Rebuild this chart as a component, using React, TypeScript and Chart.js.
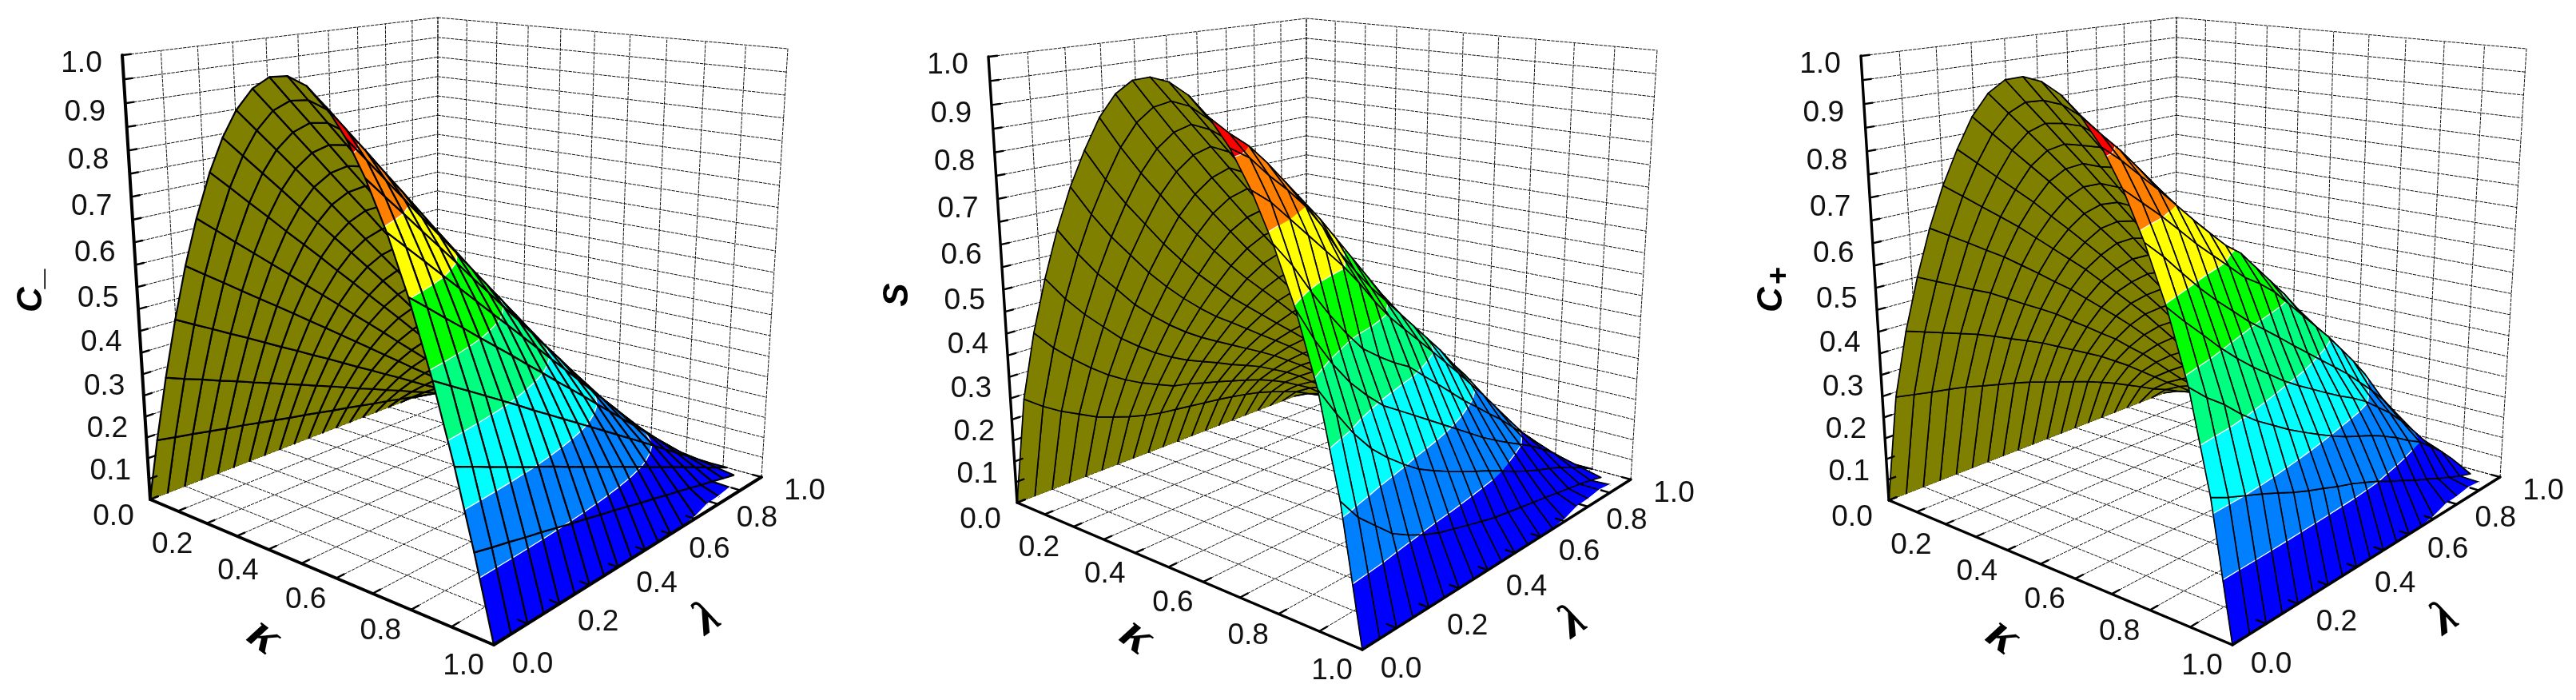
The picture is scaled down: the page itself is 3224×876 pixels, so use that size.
import { useEffect, useRef } from "react";
import { Chart, registerables } from "chart.js";
Chart.register(...registerables);

const lambdaGrid = [0, .05, .1, .15, .2, .25, .3, .35, .4, .45, .5, .55, .6, .65, .7, .75, .8, .85, .9, .95, 1];
const kappaRowsMinus = [0, .04, .085, .13, .175, .22, .27, .315, .36, .41, .46, .51, .56, .61, .66, .705, .755, .805, .86, .91, .955, 1];
const kappaRowsOther = [0, .05, .1, .15, .2, .25, .3, .35, .4, .45, .5, .55, .6, .65, .7, .75, .8, .85, .9, .95, 1];
const zGridValues = [0, .05, .1, .15, .2, .25, .3, .35, .4, .45, .5, .55, .6, .65, .7, .75, .8, .85, .9, .95, 1];
const floorGridValues = [0, .1, .2, .3, .4, .5, .6, .7, .8, .9, 1];
const zLabels = ["0.0", "0.1", "0.2", "0.3", "0.4", "0.5", "0.6", "0.7", "0.8", "0.9", "1.0"];
const kappaLabels = ["0.2", "0.4", "0.6", "0.8", "1.0"];
const lambdaLabels = ["0.0", "0.2", "0.4", "0.6", "0.8", "1.0"];
const levelColors = ["#0000ff", "#0080ff", "#00ffff", "#00ff80", "#00ff00", "#ffff00", "#ff8000", "#ff0000"];
const levelEdges = [-1, .125, .25, .375, .5, .625, .75, .875, 2];

// Surface heights in thousandths, one row per kappa line, one column per lambda line.
const zeroRow = [0, 0, 0, 0, 0, 0, 0, 0, 0, 0, 0, 0, 0, 0, 0, 0, 0, 0, 0, 0, 0];
const edgeRow = [0, 0, 0, 0, 0, 0, 0, 0, 0, 0, 0, 0, 0, 0, 5, 17, 19, 24, null, null, null];
const edgeRowLong = [0, 0, 0, 0, 0, 0, 0, 0, 0, 0, 0, 0, 0, 0, 5, 17, 19, 24, 20, null, null];
const cMinusZ = [
  zeroRow,
  [154, 146, 139, 131, 123, 116, 108, 100, 92, 85, 77, 69, 62, 54, 46, 39, 31, 23, 15, 8, 0],
  [311, 295, 280, 264, 249, 233, 218, 202, 187, 171, 156, 140, 124, 109, 93, 78, 62, 47, 31, 16, 0],
  [452, 429, 407, 384, 362, 339, 316, 294, 271, 249, 226, 203, 181, 158, 136, 113, 90, 68, 45, 23, 0],
  [578, 549, 520, 491, 462, 434, 405, 376, 347, 318, 289, 260, 231, 202, 173, 145, 116, 87, 58, 29, 0],
  [686, 652, 617, 583, 549, 515, 480, 446, 412, 377, 343, 309, 274, 240, 206, 172, 137, 103, 69, 34, 0],
  [788, 749, 709, 670, 630, 591, 552, 512, 473, 433, 394, 355, 315, 276, 236, 197, 158, 118, 79, 39, 0],
  [863, 820, 777, 734, 690, 647, 604, 561, 518, 475, 432, 388, 345, 302, 259, 216, 173, 129, 86, 43, 0],
  [922, 876, 830, 784, 738, 692, 645, 599, 553, 507, 461, 415, 369, 323, 277, 231, 184, 138, 92, 46, 0],
  [968, 920, 871, 823, 774, 726, 678, 629, 581, 532, 484, 436, 387, 339, 290, 242, 194, 145, 97, 48, 0],
  [994, 944, 895, 845, 795, 746, 696, 646, 596, 547, 497, 447, 398, 348, 298, 249, 199, 149, 99, 50, 0],
  [1000, 950, 900, 850, 800, 750, 700, 650, 600, 550, 500, 450, 400, 350, 300, 250, 200, 150, 100, 50, 0],
  [986, 937, 887, 838, 789, 740, 690, 641, 592, 542, 493, 444, 394, 345, 296, 247, 197, 148, 99, 49, 0],
  [952, 904, 857, 809, 762, 714, 666, 619, 571, 524, 476, 428, 381, 333, 286, 238, 190, 143, 95, 48, 0],
  [898, 853, 808, 763, 718, 674, 629, 584, 539, 494, 449, 404, 359, 314, 269, 225, 180, 135, 90, 45, 0],
  [832, 790, 749, 707, 666, 624, 582, 541, 499, 458, 416, 374, 333, 291, 250, 208, 166, 125, 83, 42, 0],
  [740, 703, 666, 629, 592, 555, 518, 481, 444, 407, 370, 333, 296, 259, 222, 185, 148, 111, 74, 37, 0],
  [628, 597, 565, 534, 502, 471, 440, 408, 377, 345, 314, 283, 251, 220, 188, 157, 126, 94, 63, 31, 0],
  [482, 458, 434, 410, 386, 362, 337, 313, 289, 265, 241, 217, 193, 169, 145, 121, 96, 72, 48, 24, 0],
  [328, 312, 295, 279, 262, 246, 230, 213, 197, 180, 164, 148, 131, 115, 98, 82, 66, 49, 33, 16, 0],
  [172, 163, 155, 146, 138, 129, 120, 112, 103, 95, 86, 77, 69, 60, 52, 43, 34, 26, 17, 9, null],
  edgeRow,
];
const sZ = [
  zeroRow,
  [260, 229, 203, 182, 161, 146, 133, 122, 114, 109, 104, 99, 94, 88, 81, 73, 62, 49, 36, 18, 0],
  [422, 376, 338, 304, 274, 249, 228, 211, 194, 186, 175, 165, 154, 143, 131, 116, 99, 78, 57, 28, 0],
  [551, 496, 450, 410, 371, 340, 312, 289, 269, 253, 237, 220, 205, 189, 169, 149, 126, 98, 71, 35, 0],
  [664, 603, 550, 505, 459, 422, 389, 360, 335, 313, 292, 271, 250, 228, 203, 178, 149, 116, 82, 41, 0],
  [760, 695, 638, 589, 540, 498, 460, 426, 395, 369, 342, 315, 289, 262, 232, 201, 167, 129, 91, 46, 0],
  [840, 774, 716, 664, 612, 566, 524, 486, 450, 418, 386, 354, 323, 291, 255, 220, 181, 139, 97, 49, 0],
  [910, 845, 786, 733, 679, 631, 585, 542, 502, 465, 428, 390, 353, 316, 276, 236, 193, 147, 102, 51, 0],
  [960, 899, 841, 787, 733, 684, 636, 589, 545, 503, 461, 419, 376, 334, 290, 246, 200, 152, 104, 52, 0],
  [990, 934, 879, 827, 774, 724, 674, 626, 578, 532, 485, 439, 392, 346, 298, 250, 202, 152, 103, 51, 0],
  [1000, 950, 900, 850, 800, 750, 700, 650, 600, 550, 500, 450, 400, 350, 300, 250, 200, 150, 100, 50, 0],
  [995, 945, 895, 845, 795, 745, 695, 645, 595, 545, 495, 445, 395, 348, 298, 250, 202, 152, 103, 51, 0],
  [975, 925, 880, 830, 780, 730, 680, 630, 580, 530, 482, 433, 386, 338, 292, 246, 200, 152, 104, 52, 0],
  [940, 905, 875, 835, 790, 745, 700, 650, 600, 550, 500, 450, 400, 345, 292, 240, 195, 148, 102, 51, 0],
  [890, 865, 825, 790, 750, 700, 640, 590, 545, 505, 465, 425, 385, 345, 300, 260, 212, 160, 110, 55, 0],
  [820, 790, 750, 710, 670, 630, 585, 535, 490, 452, 415, 378, 340, 302, 262, 224, 182, 140, 96, 48, 0],
  [730, 680, 620, 565, 515, 471, 442, 416, 394, 361, 329, 296, 263, 234, 204, 175, 142, 110, 77, 38, 0],
  [620, 550, 490, 440, 400, 365, 340, 315, 290, 265, 240, 215, 190, 168, 147, 128, 108, 85, 60, 30, 0],
  [480, 420, 365, 320, 285, 255, 228, 208, 190, 173, 157, 142, 125, 107, 92, 78, 66, 52, 37, 19, 0],
  [280, 230, 195, 160, 138, 120, 105, 95, 85, 75, 66, 60, 54, 48, 42, 36, 30, 24, 17, 8, null],
  edgeRowLong,
];
const cPlusZ = [
  zeroRow,
  [260, 252, 244, 237, 229, 218, 208, 198, 187, 174, 161, 148, 135, 120, 104, 86, 68, 49, 34, 16, 0],
  [422, 408, 394, 380, 366, 349, 331, 314, 296, 275, 254, 233, 212, 187, 162, 134, 106, 78, 53, 25, 0],
  [551, 531, 511, 491, 472, 448, 424, 401, 377, 349, 322, 294, 267, 235, 204, 169, 133, 98, 67, 31, 0],
  [664, 639, 614, 588, 563, 534, 505, 475, 446, 413, 380, 347, 313, 276, 239, 198, 157, 116, 78, 37, 0],
  [760, 730, 699, 669, 638, 604, 570, 536, 502, 464, 426, 388, 350, 308, 266, 220, 175, 129, 87, 42, 0],
  [840, 805, 769, 734, 699, 660, 622, 583, 544, 502, 460, 418, 376, 331, 286, 237, 188, 139, 94, 45, 0],
  [910, 870, 830, 790, 750, 707, 664, 622, 579, 533, 488, 442, 397, 349, 300, 249, 198, 147, 99, 48, 0],
  [960, 916, 872, 828, 783, 737, 691, 645, 599, 551, 503, 455, 407, 357, 307, 255, 204, 152, 102, 50, 0],
  [990, 942, 895, 847, 800, 751, 703, 654, 606, 556, 507, 457, 408, 357, 307, 255, 204, 152, 102, 50, 0],
  [1000, 950, 900, 850, 800, 750, 700, 650, 600, 550, 500, 450, 400, 350, 300, 250, 200, 150, 100, 50, 0],
  [995, 947, 900, 852, 804, 755, 706, 658, 609, 559, 510, 460, 410, 359, 308, 257, 205, 153, 102, 51, 0],
  [975, 930, 885, 840, 795, 749, 702, 655, 608, 559, 511, 462, 413, 363, 312, 259, 207, 154, 103, 51, 0],
  [940, 902, 865, 823, 780, 738, 696, 653, 611, 564, 517, 470, 423, 376, 329, 277, 226, 169, 113, 56, 0],
  [890, 859, 823, 788, 750, 712, 676, 641, 614, 574, 534, 494, 449, 405, 360, 312, 258, 200, 138, 71, 0],
  [820, 787, 754, 718, 681, 648, 615, 582, 558, 529, 492, 455, 418, 381, 340, 299, 254, 197, 135, 70, 0],
  [730, 694, 653, 613, 577, 544, 511, 482, 453, 423, 394, 365, 336, 307, 274, 241, 204, 161, 110, 55, 0],
  [620, 580, 543, 505, 471, 440, 412, 384, 360, 338, 316, 295, 276, 254, 226, 198, 164, 127, 87, 43, 0],
  [480, 446, 418, 384, 355, 331, 307, 286, 266, 247, 230, 216, 202, 185, 166, 144, 125, 98, 70, 36, 0],
  [280, 263, 249, 235, 220, 204, 190, 178, 165, 154, 140, 126, 109, 94, 78, 64, 49, 35, 22, 11, null],
  edgeRowLong,
];

type Pt = [number, number];
const panels = [
  {
    left: 0, width: 1072, rows: kappaRowsMinus, table: cMinusZ, lineW: 2.2, axisW: 4,
    O: [188, 625] as Pt, F: [618, 807] as Pt, R: [953, 597] as Pt, B: [547, 486] as Pt,
    Ot: [153, 69] as Pt, Bt: [548, 22] as Pt, Rt: [986, 61] as Pt,
    title: "C_", sub: "", titleAt: [40, 363] as Pt, kappaAt: [330, 797] as Pt, lambdaAt: [885, 775] as Pt,
  },
  {
    left: 1072, width: 1072, rows: kappaRowsOther, table: sZ, lineW: 1.7, axisW: 3.4,
    O: [1273, 629] as Pt, F: [1705, 813] as Pt, R: [2041, 600] as Pt, B: [1635, 490] as Pt,
    Ot: [1237, 71] as Pt, Bt: [1635, 23] as Pt, Rt: [2074, 63] as Pt,
    title: "S", sub: "", titleAt: [1124, 369] as Pt, kappaAt: [1422, 797] as Pt, lambdaAt: [1969, 779] as Pt,
  },
  {
    left: 2144, width: 1080, rows: kappaRowsOther, table: cPlusZ, lineW: 1.7, axisW: 3.4,
    O: [2364, 626] as Pt, F: [2794, 807] as Pt, R: [3129, 597] as Pt, B: [2723, 486] as Pt,
    Ot: [2329, 70] as Pt, Bt: [2724, 22] as Pt, Rt: [3162, 61] as Pt,
    title: "C", sub: "+", titleAt: [2218, 375] as Pt, kappaAt: [2506, 797] as Pt, lambdaAt: [3060, 775] as Pt,
  },
];

type P3 = { k: number; l: number; z: number };

function makeProjector(p: typeof panels[number]) {
  const [x00, y00] = p.O, [x10, y10] = p.F, [x11, y11] = p.R, [x01, y01] = p.B;
  const dx1 = x10 - x11, dx2 = x01 - x11, sx = x00 - x10 + x11 - x01;
  const dy1 = y10 - y11, dy2 = y01 - y11, sy = y00 - y10 + y11 - y01;
  const det = dx1 * dy2 - dx2 * dy1;
  const g = (sx * dy2 - dx2 * sy) / det;
  const h = (dx1 * sy - sx * dy1) / det;
  const a1 = x10 - x00 + g * x10, a2 = x01 - x00 + h * x01;
  const b1 = y10 - y00 + g * y10, b2 = y01 - y00 + h * y01;
  const c3 = -0.085;
  const a3 = p.Ot[0] * (1 + c3) - x00, b3 = p.Ot[1] * (1 + c3) - y00;
  const depth = (k: number, l: number, z: number) => 1 + g * k + h * l + c3 * z;
  const base = (k: number, l: number, z: number): Pt => {
    const w = depth(k, l, z);
    return [(a1 * k + a2 * l + a3 * z + x00) / w, (b1 * k + b2 * l + b3 * z + y00) / w];
  };
  const bT = base(0, 1, 1), rT = base(1, 1, 1);
  const cx = p.Bt[0] - bT[0], cy = p.Bt[1] - bT[1];
  const ax = p.Rt[0] - rT[0] - cx, ay = p.Rt[1] - rT[1] - cy;
  const project = (k: number, l: number, z: number): Pt => {
    const q = base(k, l, z);
    return [q[0] + z * (ax * k + cx * l) - p.left, q[1] + z * (ay * k + cy * l)];
  };
  return { project, depth };
}

function clipAbove(poly: P3[], level: number, keepAbove: boolean): P3[] {
  const out: P3[] = [];
  const inside = (q: P3) => (keepAbove ? q.z >= level : q.z <= level);
  for (let n = 0; n < poly.length; n++) {
    const a = poly[n], b = poly[(n + 1) % poly.length];
    if (inside(a)) out.push(a);
    if (inside(a) !== inside(b)) {
      const t = (level - a.z) / (b.z - a.z);
      out.push({ k: a.k + t * (b.k - a.k), l: a.l + t * (b.l - a.l), z: level });
    }
  }
  return out;
}

function buildDatasets(p: typeof panels[number]) {
  const { project, depth } = makeProjector(p);
  const toXY = (q: P3) => { const r = project(q.k, q.l, q.z); return { x: r[0], y: r[1] }; };
  const back: any[] = [];
  const stroke = (pts: P3[], color: string, width: number, dash?: number[]) => ({
    data: pts.map(toXY), showLine: true, fill: false, borderColor: color, borderWidth: width,
    borderDash: dash || [], pointRadius: 0,
  });
  const dash = [3.5, 2];
  for (const v of floorGridValues) {
    back.push(stroke([{ k: v, l: 0, z: 0 }, { k: v, l: 1, z: 0 }], "#111", 1, dash));
    back.push(stroke([{ k: 0, l: v, z: 0 }, { k: 1, l: v, z: 0 }], "#111", 1, dash));
    back.push(stroke([{ k: 0, l: v, z: 0 }, { k: 0, l: v, z: 1 }], "#111", 1, dash));
    back.push(stroke([{ k: v, l: 1, z: 0 }, { k: v, l: 1, z: 1 }], "#111", 1, dash));
  }
  for (const v of zGridValues) {
    back.push(stroke([{ k: 0, l: 0, z: v }, { k: 0, l: 1, z: v }], "#111", 1, dash));
    back.push(stroke([{ k: 0, l: 1, z: v }, { k: 1, l: 1, z: v }], "#111", 1, dash));
  }

  const rows = p.rows, cols = lambdaGrid;
  const at = (i: number, j: number): P3 | null => {
    const v = p.table[i][j];
    return v === null || v === undefined ? null : { k: rows[i], l: cols[j], z: v / 1000 };
  };
  const area = (a: Pt[]) => {
    let s = 0;
    for (let n = 0; n < a.length; n++) {
      const u = a[n], w = a[(n + 1) % a.length];
      s += u[0] * w[1] - w[0] * u[1];
    }
    return s;
  };
  const topSign = Math.sign(area([project(0, 0, 0), project(1, 0, 0), project(1, 1, 0), project(0, 1, 0)]));
  const cells: { w: number; sets: any[] }[] = [];
  const last = rows.length - 1;
  for (let i = 0; i < last; i++) {
    for (let j = 0; j < cols.length - 1; j++) {
      const A = at(i, j), Bb = at(i + 1, j), C = at(i + 1, j + 1), D = at(i, j + 1);
      if (!A || !Bb || !C || !D) continue;
      const quad = [A, Bb, C, D];
      const flat = quad.map((q) => project(q.k, q.l, q.z));
      const front = Math.sign(area(flat)) === topSign;
      const sets: any[] = [];
      const poly = (pts: P3[], color: string) => {
        const d = pts.map(toXY);
        d.push(d[0]);
        sets.push({
          data: d, showLine: true, fill: "shape", backgroundColor: color, borderColor: color,
          borderWidth: 0.7, pointRadius: 0,
        });
      };
      if (!front) {
        poly(quad, "#808000");
      } else {
        for (let b = 0; b < levelColors.length; b++) {
          const piece = clipAbove(clipAbove(quad, levelEdges[b], true), levelEdges[b + 1], false);
          if (piece.length >= 3) poly(piece, levelColors[b]);
        }
        for (let b = 1; b < levelColors.length; b++) {
          const lv = levelEdges[b];
          const cross: P3[] = [];
          for (let n = 0; n < 4; n++) {
            const u = quad[n], w = quad[(n + 1) % 4];
            if ((u.z - lv) * (w.z - lv) < 0) {
              const t = (lv - u.z) / (w.z - u.z);
              cross.push({ k: u.k + t * (w.k - u.k), l: u.l + t * (w.l - u.l), z: lv });
            }
          }
          if (cross.length >= 2) sets.push(stroke(cross.slice(0, 2), "#ffffff", 1.3));
        }
      }
      // mesh edges; the rim rows kappa=0 and kappa=1 carry no mesh line
      const gap = { x: 0, y: null };
      const line: any[] = [];
      line.push(toXY(A), toXY(Bb));
      if (i + 1 < last) { line.push(toXY(C)); } else { line.push(gap, toXY(C)); }
      line.push(toXY(D));
      if (i > 0) line.push(toXY(A));
      sets.push({
        data: line, showLine: true, fill: false, borderColor: "#000", borderWidth: p.lineW,
        pointRadius: 0, spanGaps: false,
      });
      const zMean = (A.z + Bb.z + C.z + D.z) / 4;
      const kMean = (A.k + Bb.k + C.k + D.k) / 4;
      const lMean = (A.l + Bb.l + C.l + D.l) / 4;
      cells.push({ w: depth(kMean, lMean, zMean), sets });
    }
  }
  cells.sort((u, v) => v.w - u.w);
  const ordered = back.concat(...cells.map((c) => c.sets));

  // white rim of the coloured side along kappa = 1
  const rim: P3[] = [];
  for (let j = 0; j < cols.length; j++) { const q = at(last, j); if (q) rim.push(q); }
  ordered.push(stroke(rim, "#ffffff", 1.6));

  const O3 = { k: 0, l: 0, z: 0 };
  ordered.push(stroke([O3, { k: 0, l: 0, z: 1 }], "#000", p.axisW));
  ordered.push(stroke([O3, { k: 1, l: 0, z: 0 }], "#000", p.axisW));
  ordered.push(stroke([{ k: 1, l: 0, z: 0 }, { k: 1, l: 1, z: 0 }], "#000", p.axisW));
  for (const v of zGridValues) ordered.push(stroke([{ k: 0, l: 0, z: v }, { k: 0, l: .022, z: v }], "#000", 2.4));
  for (const v of floorGridValues) {
    ordered.push(stroke([{ k: v, l: 0, z: 0 }, { k: v, l: .022, z: 0 }], "#000", 2.4));
    ordered.push(stroke([{ k: 1, l: v, z: 0 }, { k: .978, l: v, z: 0 }], "#000", 2.4));
  }
  return { datasets: ordered.reverse(), project };
}

function makeChart(canvas: HTMLCanvasElement, p: typeof panels[number]) {
  const { datasets, project } = buildDatasets(p);
  const textPlugin = {
    id: "panelText",
    afterDraw(chart: any) {
      const ctx = chart.ctx;
      const sx = (v: number) => chart.scales.x.getPixelForValue(v);
      const sy = (v: number) => chart.scales.y.getPixelForValue(v);
      ctx.save();
      ctx.fillStyle = "#111";
      ctx.textAlign = "center";
      ctx.textBaseline = "middle";
      ctx.font = "37px 'Liberation Sans'";
      zLabels.forEach((t, n) => {
        const z = n / 10;
        const q = project(0, 0, z);
        ctx.fillText(t, sx(q[0] - 46 - 5 * z), sy(q[1] + (n === 0 ? 22 : 17 - 6 * z)));
      });
      kappaLabels.forEach((t, n) => {
        const q = project((n + 1) / 5, 0, 0);
        ctx.fillText(t, sx(q[0] + (n === 0 ? -43 : -38)), sy(q[1] + 27));
      });
      lambdaLabels.forEach((t, n) => {
        const q = project(1, n / 5, 0);
        ctx.fillText(t, sx(q[0] + (n === 5 ? 54 : 48.5)), sy(q[1] + (n === 5 ? 18 : 25 - 1.8 * n)));
      });
      const glyph = (text: string, at: Pt, rot: number, font: string) => {
        ctx.save();
        ctx.translate(sx(at[0] - p.left), sy(at[1]));
        ctx.rotate(rot);
        ctx.font = font;
        ctx.fillStyle = "#000";
        ctx.fillText(text, 0, 0);
        ctx.restore();
      };
      glyph(p.title, p.titleAt, -Math.PI / 2, "italic bold 44px 'Liberation Sans'");
      if (p.sub) glyph(p.sub, [p.titleAt[0] + 10, p.titleAt[1] - 30], -Math.PI / 2, "bold 38px 'Liberation Sans'");
      glyph("κ", p.kappaAt, 0.65, "italic bold 64px 'Liberation Serif'");
      glyph("λ", p.lambdaAt, -0.6, "italic bold 60px 'Liberation Serif'");
      ctx.restore();
    },
  };
  return new Chart(canvas, {
    type: "scatter",
    data: { datasets },
    plugins: [textPlugin],
    options: {
      responsive: false,
      animation: false,
      events: [],
      layout: { padding: 0 },
      scales: {
        x: { type: "linear", display: false, min: 0, max: p.width },
        y: { type: "linear", display: false, min: 0, max: 876, reverse: true },
      },
      plugins: { legend: { display: false }, tooltip: { enabled: false } },
      elements: { point: { radius: 0 }, line: { tension: 0, borderJoinStyle: "round", borderCapStyle: "round" } },
    },
  } as any);
}

export default function App() {
  const refs = useRef<(HTMLCanvasElement | null)[]>([]);
  useEffect(() => {
    const charts = panels.map((p, n) => makeChart(refs.current[n] as HTMLCanvasElement, p));
    return () => charts.forEach((c) => c.destroy());
  }, []);
  return (
    <div style={{ position: "fixed", left: 0, top: 0, width: 3224, height: 876, background: "#fff", overflow: "hidden" }}>
      {panels.map((p, n) => (
        <canvas
          key={n}
          ref={(el) => { refs.current[n] = el; }}
          width={p.width}
          height={876}
          style={{ position: "absolute", left: p.left, top: 0, width: p.width, height: 876, display: "block" }}
        />
      ))}
    </div>
  );
}
